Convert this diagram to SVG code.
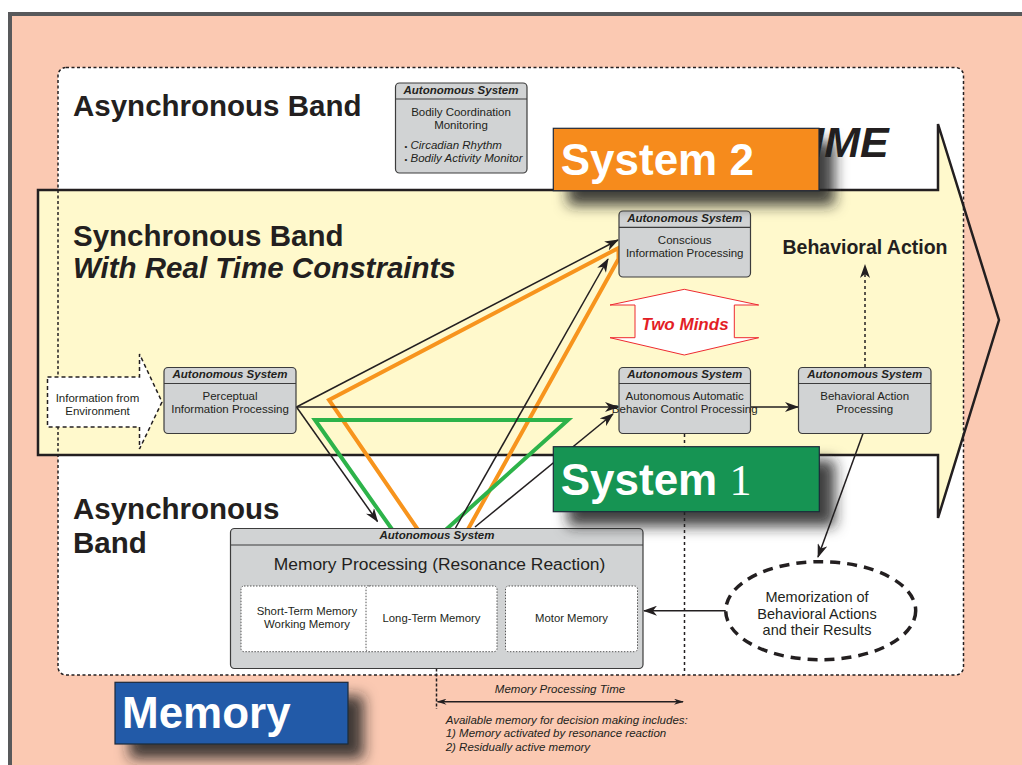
<svg xmlns="http://www.w3.org/2000/svg" width="1022" height="765" viewBox="0 0 1022 765">
<defs>
<style>
.t{font-family:"Liberation Sans",Arial,sans-serif;fill:#231F20}
.band{font-size:29.5px;font-weight:bold}
.hdr{font-size:11.5px;font-weight:bold;font-style:italic;text-anchor:middle}
.body{font-size:11.5px;text-anchor:middle}
.box{fill:#D1D3D4;stroke:#3C3C3C;stroke-width:1.2}
.sep{stroke:#3C3C3C;stroke-width:1.2}
.conn{stroke:#231F20;stroke-width:1.5;fill:none}
.sub{fill:#FFFFFF;stroke:#555;stroke-width:1;stroke-dasharray:1.5 1.5}
.lbl{font-family:"Liberation Sans",Arial,sans-serif;font-size:44px;font-weight:bold;fill:#FFFFFF}
</style>
<marker id="ah" viewBox="0 0 14 10" refX="13" refY="5" markerWidth="14" markerHeight="10" orient="auto" markerUnits="userSpaceOnUse"><path d="M0,0 L14,5 L0,10 L4,5 Z" fill="#231F20"/></marker>
<marker id="ahs" viewBox="0 0 10 6" refX="9" refY="3" markerWidth="10" markerHeight="6" orient="auto-start-reverse" markerUnits="userSpaceOnUse"><path d="M0,0 L10,3 L0,6 L3,3 Z" fill="#231F20"/></marker>
<filter id="sh" x="-20%" y="-40%" width="150%" height="200%"><feDropShadow dx="15" dy="14" stdDeviation="7" flood-color="#1a1a1a" flood-opacity="0.85"/></filter>
</defs>

<rect x="0" y="0" width="1022" height="765" fill="#FFFFFF"/>
<rect x="10" y="14" width="1100" height="800" fill="#FBC9B2" stroke="#58595B" stroke-width="4"/>

<!-- white panel -->
<rect x="58" y="67.5" width="905.5" height="607.5" rx="8" fill="#FFFFFF"/>

<!-- time arrow band -->
<g id="time-band">
<polygon points="38,190 938,190 938,124 963,204.3 963,436.9 938,518 938,455 38,455" fill="#FFF9CC"/>
<path d="M38,190 H938 V124 L999,320 L938,518 V455 H38 Z" fill="none" stroke="#231F20" stroke-width="2.5" stroke-linejoin="miter"/>
</g>

<rect x="58" y="67.5" width="905.5" height="607.5" rx="8" fill="none" stroke="#231F20" stroke-width="1.5" stroke-dasharray="3 2.5"/>

<!-- band titles -->
<text class="t band" x="73" y="116">Asynchronous Band</text>
<text class="t band" x="73" y="246">Synchronous Band</text>
<text class="t band" x="73" y="277.7" font-style="italic">With Real Time Constraints</text>
<text class="t band" x="73" y="519">Asynchronous</text>
<text class="t band" x="73" y="553">Band</text>
<text class="t" x="786" y="157" font-size="43" font-weight="bold" font-style="italic">TIME</text>
<text class="t" x="865" y="254.3" font-size="19.5" font-weight="bold" text-anchor="middle">Behavioral Action</text>

<!-- connectors -->
<g id="connectors">
<polygon points="618.5,248 329,400 425,540 462,540 618.5,259" fill="none" stroke="#F7941D" stroke-width="4" stroke-linejoin="miter"/>
<polygon points="315,420 568,420 440,535 396,535" fill="none" stroke="#2DB34A" stroke-width="4" stroke-linejoin="miter"/>
<line class="conn" x1="296.5" y1="407" x2="618" y2="240" marker-end="url(#ah)"/>
<line class="conn" x1="296.5" y1="407" x2="618" y2="407" marker-end="url(#ah)"/>
<line class="conn" x1="296.5" y1="407" x2="377.5" y2="521.5" marker-end="url(#ah)"/>
<line class="conn" x1="455.5" y1="528" x2="608" y2="259" marker-end="url(#ah)"/>
<line class="conn" x1="475" y1="527" x2="613" y2="414" marker-end="url(#ah)"/>
<line class="conn" x1="751" y1="407" x2="798" y2="407" marker-end="url(#ah)"/>
<line class="conn" x1="865" y1="367" x2="865" y2="265" stroke-width="2" stroke-dasharray="3 3" marker-end="url(#ah)"/>
<line class="conn" x1="863" y1="433.5" x2="818" y2="557" marker-end="url(#ah)"/>
<line class="conn" x1="726" y1="610.7" x2="644" y2="610.7" marker-end="url(#ah)"/>
<line class="conn" x1="684.5" y1="434" x2="684.5" y2="675" stroke-width="2" stroke-dasharray="3 3"/>
<line class="conn" x1="436.5" y1="668.5" x2="436.5" y2="709" stroke-width="1.5" stroke-dasharray="3 2"/>
<line class="conn" x1="437.5" y1="701.7" x2="683" y2="701.7" stroke-width="1" marker-start="url(#ahs)" marker-end="url(#ahs)"/>
</g>

<!-- info from environment -->
<g id="info-env">
<path d="M47.5,377 H139.5 V354 L162,402 L139.5,449 V427 H47.5 Z" fill="#FFFFFF" stroke="#231F20" stroke-width="1.5" stroke-dasharray="4 3"/>
<text class="t body" x="97.5" y="401.5">Information from</text>
<text class="t body" x="97.5" y="414.5">Environment</text>
</g>

<!-- bodily coordination -->
<g id="bodily">
<rect class="box" x="395.5" y="83" width="131.5" height="90" rx="4"/>
<line class="sep" x1="395.5" y1="99" x2="527" y2="99"/>
<text class="t hdr" x="461" y="94">Autonomous System</text>
<text class="t body" x="461" y="115.5">Bodily Coordination</text>
<text class="t body" x="461" y="128.5">Monitoring</text>
<text class="t" x="404.5" y="148.5" font-size="11.5" font-style="italic"><tspan font-size="8" font-style="normal">•</tspan> Circadian Rhythm</text>
<text class="t" x="404.5" y="162" font-size="11.5" font-style="italic"><tspan font-size="8" font-style="normal">•</tspan> Bodily Activity Monitor</text>
</g>

<g id="perceptual">
<rect class="box" x="164" y="367.5" width="132" height="66" rx="4"/>
<line class="sep" x1="164" y1="383.5" x2="296" y2="383.5"/>
<text class="t hdr" x="230" y="378">Autonomous System</text>
<text class="t body" x="230" y="400">Perceptual</text>
<text class="t body" x="230" y="412.7">Information Processing</text>
</g>

<g id="conscious">
<rect class="box" x="619" y="211" width="131.5" height="66" rx="4"/>
<line class="sep" x1="619" y1="227.3" x2="750.5" y2="227.3"/>
<text class="t hdr" x="684.7" y="222">Autonomous System</text>
<text class="t body" x="684.7" y="244.3">Conscious</text>
<text class="t body" x="684.7" y="256.5">Information Processing</text>
</g>

<g id="two-minds">
<path d="M684.3,289.3 L758.7,305 L734.3,305 L734.3,337.7 L758.7,337.7 L684.3,355 L610,337.7 L635,337.7 L635,305 L610,305 Z" fill="#FFFFFF" stroke="#EE2A30" stroke-width="1"/>
<text x="685" y="329.5" font-family="Liberation Sans,Arial,sans-serif" font-size="17" font-weight="bold" font-style="italic" fill="#E31E26" text-anchor="middle">Two Minds</text>
</g>

<g id="automatic">
<rect class="box" x="619" y="367.5" width="131.5" height="66" rx="4"/>
<line class="sep" x1="619" y1="383.5" x2="750.5" y2="383.5"/>
<text class="t hdr" x="684.7" y="378">Autonomous System</text>
<text class="t body" x="684.7" y="399.5" font-size="10.3">Autonomous Automatic</text>
<text class="t body" x="684.7" y="412.7" font-size="10.3">Behavior Control Processing</text>
</g>

<g id="behavioral-action">
<rect class="box" x="798.5" y="367.5" width="132.5" height="66" rx="4"/>
<line class="sep" x1="798.5" y1="383.5" x2="931" y2="383.5"/>
<text class="t hdr" x="864.7" y="378">Autonomous System</text>
<text class="t body" x="864.7" y="399.5" font-size="11.3">Behavioral Action</text>
<text class="t body" x="864.7" y="412.7" font-size="11.3">Processing</text>
</g>

<g id="memory-processing">
<rect class="box" x="230.5" y="528.5" width="412.5" height="140" rx="4"/>
<line class="sep" x1="230.5" y1="545" x2="643" y2="545"/>
<text class="t hdr" x="437" y="539">Autonomous System</text>
<text class="t" x="439.5" y="570" font-size="17.4" text-anchor="middle">Memory Processing (Resonance Reaction)</text>
<rect class="sub" x="241" y="586" width="132" height="65.7" rx="3"/>
<rect class="sub" x="366" y="586" width="131" height="65.7" rx="3"/>
<rect class="sub" x="505.5" y="586" width="132" height="65.7" rx="3"/>
<text class="t" x="307" y="615" font-size="11.4" text-anchor="middle">Short-Term Memory</text>
<text class="t" x="307" y="628.3" font-size="11.4" text-anchor="middle">Working Memory</text>
<text class="t" x="431.5" y="621.7" font-size="11.3" text-anchor="middle">Long-Term Memory</text>
<text class="t" x="571.5" y="621.7" font-size="11.3" text-anchor="middle">Motor Memory</text>
</g>

<g id="memorization">
<ellipse cx="820.7" cy="610.7" rx="95" ry="49" fill="#FFFFFF" stroke="#231F20" stroke-width="3.5" stroke-dasharray="10 7"/>
<text class="t" x="817" y="602.3" font-size="14.5" text-anchor="middle">Memorization of</text>
<text class="t" x="817" y="618.7" font-size="14.5" text-anchor="middle">Behavioral Actions</text>
<text class="t" x="817" y="635" font-size="14.5" text-anchor="middle">and their Results</text>
</g>

<g id="memory-time-notes">
<text class="t" x="560" y="692.5" font-size="11.5" font-style="italic" text-anchor="middle">Memory Processing Time</text>
<text class="t" x="445.7" y="724" font-size="11.5" font-style="italic">Available memory for decision making includes:</text>
<text class="t" x="445.7" y="737.3" font-size="11.5" font-style="italic">1) Memory activated by resonance reaction</text>
<text class="t" x="445.7" y="750.7" font-size="11.5" font-style="italic">2) Residually active memory</text>
</g>

<g id="system2">
<rect x="553.3" y="128.3" width="265.7" height="62.4" fill="#F68B1F" stroke="#1F2A3A" stroke-width="1.2" filter="url(#sh)"/>
<text class="lbl" x="560.7" y="175">System 2</text>
</g>

<g id="system1">
<rect x="553.3" y="446.7" width="266" height="65" fill="#169453" stroke="#1F2A3A" stroke-width="1.2" filter="url(#sh)"/>
<text class="lbl" x="560.7" y="495">System <tspan font-family="Liberation Serif,Times New Roman,serif" font-weight="normal">1</tspan></text>
</g>

<g id="memory-label">
<rect x="115" y="682.3" width="233" height="61.7" fill="#215AA8" stroke="#1F2A3A" stroke-width="1.2" filter="url(#sh)"/>
<text class="lbl" x="122" y="728.3">Memory</text>
</g>
</svg>
